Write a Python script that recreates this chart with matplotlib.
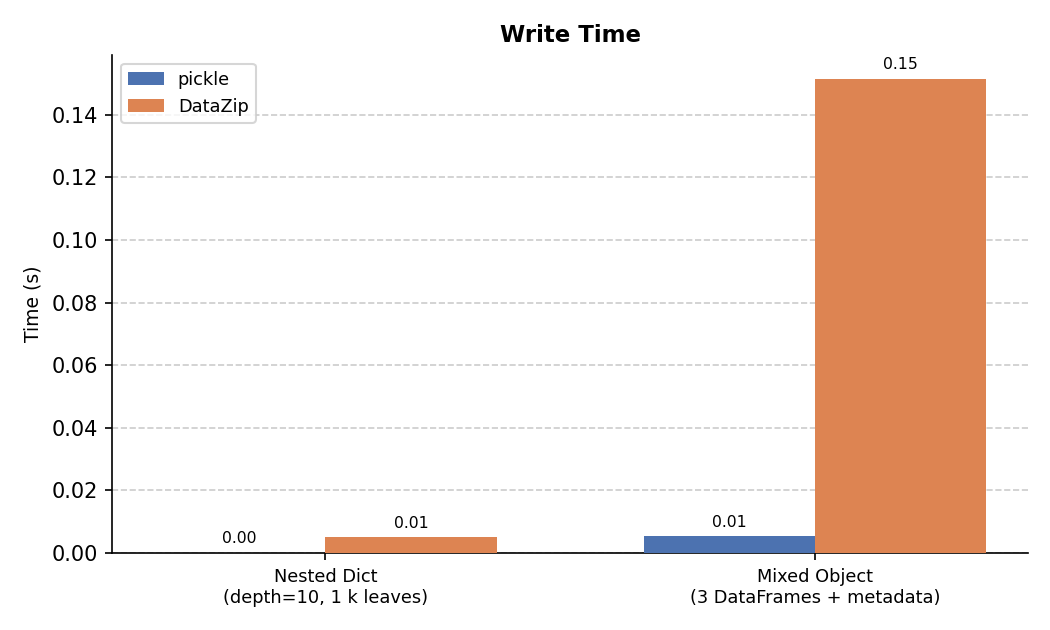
import matplotlib.pyplot as plt
import numpy as np

categories = ["Nested Dict\n(depth=10, 1 k leaves)", "Mixed Object\n(3 DataFrames + metadata)"]
pickle_times = [0.0002, 0.0054]
datazip_times = [0.0050, 0.1515]

fig, ax = plt.subplots(figsize=(7.0, 4.2), dpi=150)
fig.subplots_adjust(left=0.107, right=0.979, top=0.913, bottom=0.122)

x = np.arange(len(categories))
w = 0.35
b1 = ax.bar(x - w / 2, pickle_times, w, color="#4C72B0", label="pickle", zorder=3)
b2 = ax.bar(x + w / 2, datazip_times, w, color="#DD8452", label="DataZip", zorder=3)
for bars in (b1, b2):
    for bar in bars:
        h = bar.get_height()
        ax.annotate(f"{h:.2f}", xy=(bar.get_x() + bar.get_width() / 2, h),
                    xytext=(0, 3), textcoords="offset points",
                    ha="center", va="bottom", fontsize=7.5)

ax.set_xticks(x)
ax.set_xticklabels(categories, fontsize=8.5)
ax.set_ylabel("Time (s)", fontsize=9)
ax.set_title("Write Time", fontweight="bold", fontsize=11)
ax.grid(axis="y", linestyle="--", color="#cccccc", zorder=0)
ax.spines["top"].set_visible(False)
ax.spines["right"].set_visible(False)
ax.legend(loc="upper left", fontsize=8.5)

fig.savefig("out.png", dpi=150)
